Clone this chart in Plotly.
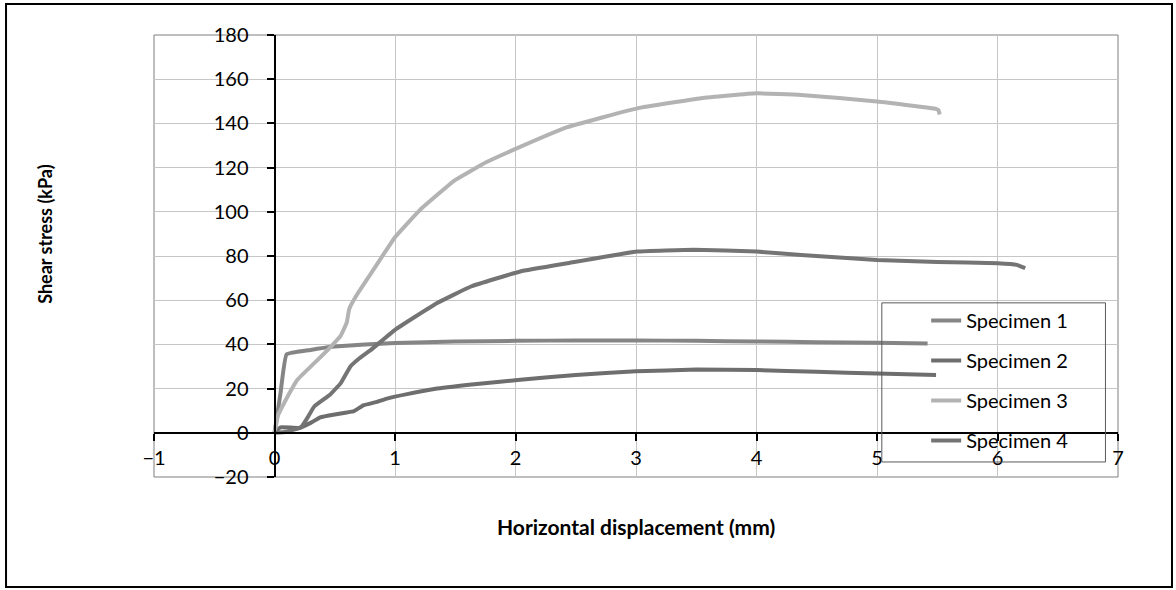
import plotly.graph_objects as go

# shear box test curves
spec1_x = [0, 0.05, 0.1, 0.3, 0.5, 0.75, 1.0, 1.5, 2.0, 2.5, 3.0, 3.5, 4.0, 4.5, 5.0, 5.42]
spec1_y = [0, 18, 35.5, 37.5, 39, 40, 40.6, 41.3, 41.6, 41.8, 41.8, 41.6, 41.3, 41.0, 40.7, 40.4]

spec2_x = [0, 0.05, 0.2, 0.3, 0.38, 0.5, 0.6, 0.66, 0.74, 0.85, 0.94, 1.1, 1.35, 1.7, 2.04, 2.5, 3.0,
           3.5, 4.0, 4.5, 5.0, 5.49]
spec2_y = [0, 2.5, 2.2, 4.5, 7.0, 8.3, 9.2, 9.8, 12.5, 14.0, 15.6, 17.5, 20.0, 22.2, 24.0, 26.2, 27.8,
           28.6, 28.4, 27.6, 26.8, 26.2]

spec3_x = [0, 0.03, 0.08, 0.19, 0.33, 0.45, 0.55, 0.6, 0.62, 0.69, 0.82, 1.0, 1.21, 1.49, 1.76, 2.01,
           2.43, 3.01, 3.54, 4.0, 4.37, 5.0, 5.49, 5.51, 5.52]
spec3_y = [0, 8, 13.5, 24, 31.5, 38, 44, 50, 56, 63, 73.7, 88.5, 101, 114, 122.5, 128.7,
           138.3, 146.8, 151.4, 153.6, 152.9, 149.9, 146.6, 146, 144]

spec4_x = [0, 0.1, 0.22, 0.27, 0.33, 0.46, 0.55, 0.63, 0.7, 0.8, 1.0, 1.35, 1.63, 2.04, 2.43, 3.01,
           3.48, 4.0, 4.37, 5.0, 5.5, 6.0, 6.16, 6.23]
spec4_y = [0, 0.5, 2.5, 6.5, 11.9, 17.2, 22.5, 30, 33.5, 37.5, 46.6, 58.7, 66.2, 73, 76.7, 82,
           82.8, 82, 80.5, 78.2, 77.3, 76.7, 76, 74.5]

series = [
    ("Specimen 1", spec1_x, spec1_y, "#858585"),
    ("Specimen 2", spec2_x, spec2_y, "#6e6e6e"),
    ("Specimen 3", spec3_x, spec3_y, "#b3b3b3"),
    ("Specimen 4", spec4_x, spec4_y, "#747474"),
]

FONT = "Lato"

fig = go.Figure()
for name, xs, ys, color in series:
    fig.add_trace(go.Scatter(x=xs, y=ys, name=name, mode="lines", legendgroup=name,
                             line=dict(color=color, width=4, shape="spline", smoothing=0.3)))

axis_common = dict(
    showline=True, linecolor="black", linewidth=2,
    ticks="outside", ticklen=7, tickwidth=2, tickcolor="black",
    showgrid=True, gridcolor="#c6c6c6", gridwidth=1, zeroline=False,
    tickfont=dict(family=FONT, size=20, color="black"),
)
fig.update_xaxes(range=[-1, 7], dtick=1, anchor="free", position=0.1, **axis_common)
fig.update_yaxes(range=[-20, 180], dtick=20, anchor="free", position=0.125,
                 ticklabelstandoff=14, **axis_common)

fig.update_layout(
    width=1176, height=590,
    margin=dict(l=154, r=58, t=35, b=113),
    paper_bgcolor="white", plot_bgcolor="white",
    font=dict(family=FONT, color="black"),
    showlegend=True,
    legend=dict(x=0.801, y=0.398, xanchor="left", yanchor="top",
                bgcolor="rgba(0,0,0,0)", borderwidth=0,
                font=dict(family=FONT, size=20, color="black"),
                traceorder="grouped", tracegroupgap=11),
    shapes=[
        dict(type="rect", xref="paper", yref="paper", x0=0, x1=1, y0=0, y1=1,
             line=dict(color="#7f7f7f", width=1), layer="below"),
        # legend frame
        dict(type="rect", xref="paper", yref="paper", x0=0.755, x1=0.987, y0=0.034, y1=0.394,
             line=dict(color="#595959", width=1)),
        # outer chart frame
        dict(type="rect", xref="paper", yref="paper", x0=-0.1535, x1=1.056, y0=-0.249, y1=1.070,
             line=dict(color="black", width=2)),
    ],
    annotations=[
        dict(text="<b>Shear stress (kPa)</b>", xref="paper", yref="paper", x=-0.1265, y=0.548,
             textangle=-90, showarrow=False, font=dict(family=FONT, size=18)),
        dict(text="<b>Horizontal displacement (mm)</b>", xref="paper", yref="paper", x=0.5, y=-0.145,
             showarrow=False, font=dict(family=FONT, size=21)),
    ],
)

fig.write_html("out.html", config={"displayModeBar": False},
               post_script="document.body.style.margin='0px';")
